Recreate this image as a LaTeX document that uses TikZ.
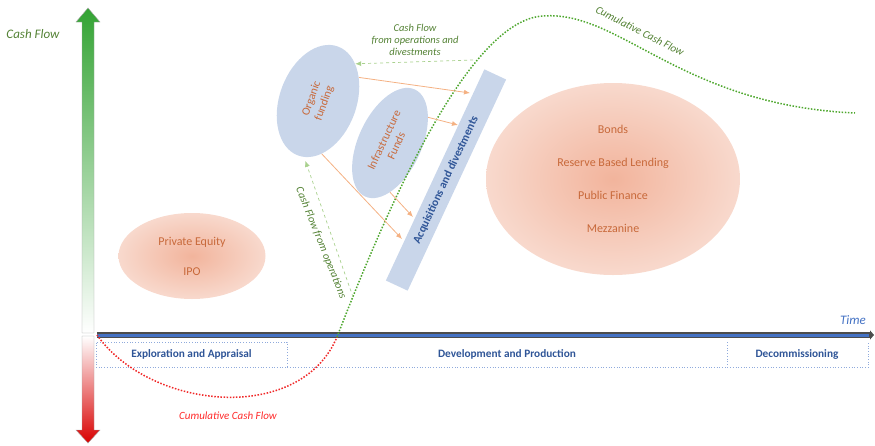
\documentclass[tikz,border=0pt]{standalone}
\usepackage{fontspec}
\setmainfont{Carlito}
\usetikzlibrary{shapes.geometric, arrows.meta, positioning}
\definecolor{cfgreen}{HTML}{548235}
\definecolor{dotgreen}{HTML}{4EA72E}
\definecolor{lgreen}{HTML}{A9D18E}
\definecolor{cfred}{HTML}{FF2A2A}
\definecolor{dotred}{HTML}{F02828}
\definecolor{lblue}{HTML}{C9D6EA}
\definecolor{dblue}{HTML}{2F5597}
\definecolor{axblue}{HTML}{4472C4}
\definecolor{ptxt}{HTML}{C8693A}
\definecolor{salmon}{HTML}{F2B49C}
\definecolor{pale}{HTML}{F8D9CD}
\definecolor{larr}{HTML}{F4B183}
\definecolor{phline}{HTML}{8FAADC}

\begin{document}
\begin{tikzpicture}[x=1pt, y=-1pt,
          blob/.style={ellipse, fill=lblue, inner sep=0pt, text=ptxt,
                       font=\fontsize{11.5}{13.5}\selectfont, align=center},
          fund/.style={ellipse, inner color=salmon, outer color=pale,
                       inner sep=0pt, text=ptxt,
                       font=\fontsize{12}{14}\selectfont, align=center},
          oarr/.style={-{Latex[length=6pt,width=5pt]}, larr, line width=0.8pt},
          garr/.style={-{Latex[length=6pt,width=5pt]}, lgreen, dashed, line width=0.7pt},
          lbl/.style={font=\fontsize{10.5}{12}\selectfont\itshape, text=cfgreen, align=center},
          phase/.style={font=\fontsize{11.3}{13}\selectfont\bfseries, text=dblue},
          phbox/.style={phline, dotted, line width=0.7pt},
          cum/.style={line width=1.5pt, dash pattern=on 1.5pt off 1.6pt},
        ]
          \useasboundingbox (0,0) rectangle (875,445);
          % cash flow axis
          \shade[top color=green!55!black!80, bottom color=white, draw=gray!70]
            (82,333) -- (82,22) -- (76,22) -- (88,8) -- (100,22) -- (94,22) -- (94,333) -- cycle;
          \shade[top color=white, bottom color=red!85!black, draw=gray!70]
            (82,336) -- (82,430) -- (76,430) -- (88,443) -- (100,430) -- (94,430) -- (94,336) -- cycle;
          \node[font=\fontsize{13}{15}\selectfont\itshape, text=cfgreen] (cf) at (33,34) {Cash Flow};
          % time axis
          \coordinate (o) at (97,335);
          \coordinate (tend) at (874,335);
          \draw[gray!60!black, line width=6pt, -{Triangle[length=4pt,width=9pt]}] (o) -- (tend);
          \draw[axblue, line width=3pt, shorten >=5pt] (o) -- (tend);
          \node[font=\fontsize{13}{15}\selectfont\itshape, text=axblue] (time) at (853,320) {Time};
          % phases
          \node[phase, draw=phline, dotted, line width=0.7pt, minimum width=191pt,
                minimum height=25pt] (expl) at (191.5,354.5) {Exploration and Appraisal};
          \node[phase] (dev) at (507,354) {Development and Production};
          \node[phase] (dec) at (797,354) {Decommissioning};
          \draw[phbox] (expl.south east) -- ++(581,0) -- ++(0,-25);
          \draw[phbox] (expl.south east) ++(440,0) -- ++(0,-25);
          % funding sources
          \node[fund, minimum width=147pt, minimum height=86pt] (pe) at (192,256)
            {Private Equity\\[16pt]IPO};
          \node[fund, minimum width=254pt, minimum height=192pt] (debt) at (613,179)
            {Bonds\\[19pt]Reserve Based Lending\\[19pt]Public Finance\\[19pt]Mezzanine};
          \node[rectangle, fill=lblue, minimum width=233pt, minimum height=24pt, rotate=65,
                text=dblue, font=\fontsize{11.5}{13}\selectfont\bfseries] (acq) at (446,180)
            {Acquisitions and divestments};
          \node[blob, minimum width=116pt, minimum height=77pt, rotate=70] (org) at (318,101)
            {Organic\\funding};
          \node[blob, minimum width=118pt, minimum height=63pt, rotate=65] (inf) at (390,143)
            {Infrastructure\\Funds};
          % cumulative cash flow
          \coordinate (be) at (337,337);
          \draw[cum, dotred] (o) .. controls (150,410) and (300,425) .. (be);
          \draw[cum, dotgreen] (be) .. controls (390,200) and (470,20) .. (543,16)
            .. controls (620,10) and (680,105) .. (855,113);
          \node[font=\fontsize{11}{13}\selectfont\itshape, text=cfred] (cumr) at (228,416) {Cumulative Cash Flow};
          \node[font=\fontsize{11}{13}\selectfont\itshape, text=cfgreen, rotate=-27] (cumg) at (640,31) {Cumulative Cash Flow};
          % flows
          \coordinate (t1) at (470,93);
          \coordinate (t2) at (458,125);
          \coordinate (t3) at (413,217);
          \coordinate (t4) at (402,239);
          \draw[oarr] (org.-40) -- (t1);
          \draw[oarr] (inf.-31) -- (t2);
          \draw[oarr] (inf.-155) -- (t3);
          \draw[oarr] (org.-156) -- (t4);
          \coordinate (g1) at (473,60);
          \coordinate (g2) at (353,297);
          \draw[garr] (g1) -- (org.-25);
          \draw[garr, shorten >=4pt] (g2) -- (org.-174);
          \node[lbl] (cfod) at (415,40) {Cash Flow\\from operations and\\divestments};
          \node[lbl, font=\fontsize{11}{13}\selectfont\itshape, rotate=-68] (cfo) at (321,243)
            {Cash Flow from operations};
        \end{tikzpicture}
\end{document}
